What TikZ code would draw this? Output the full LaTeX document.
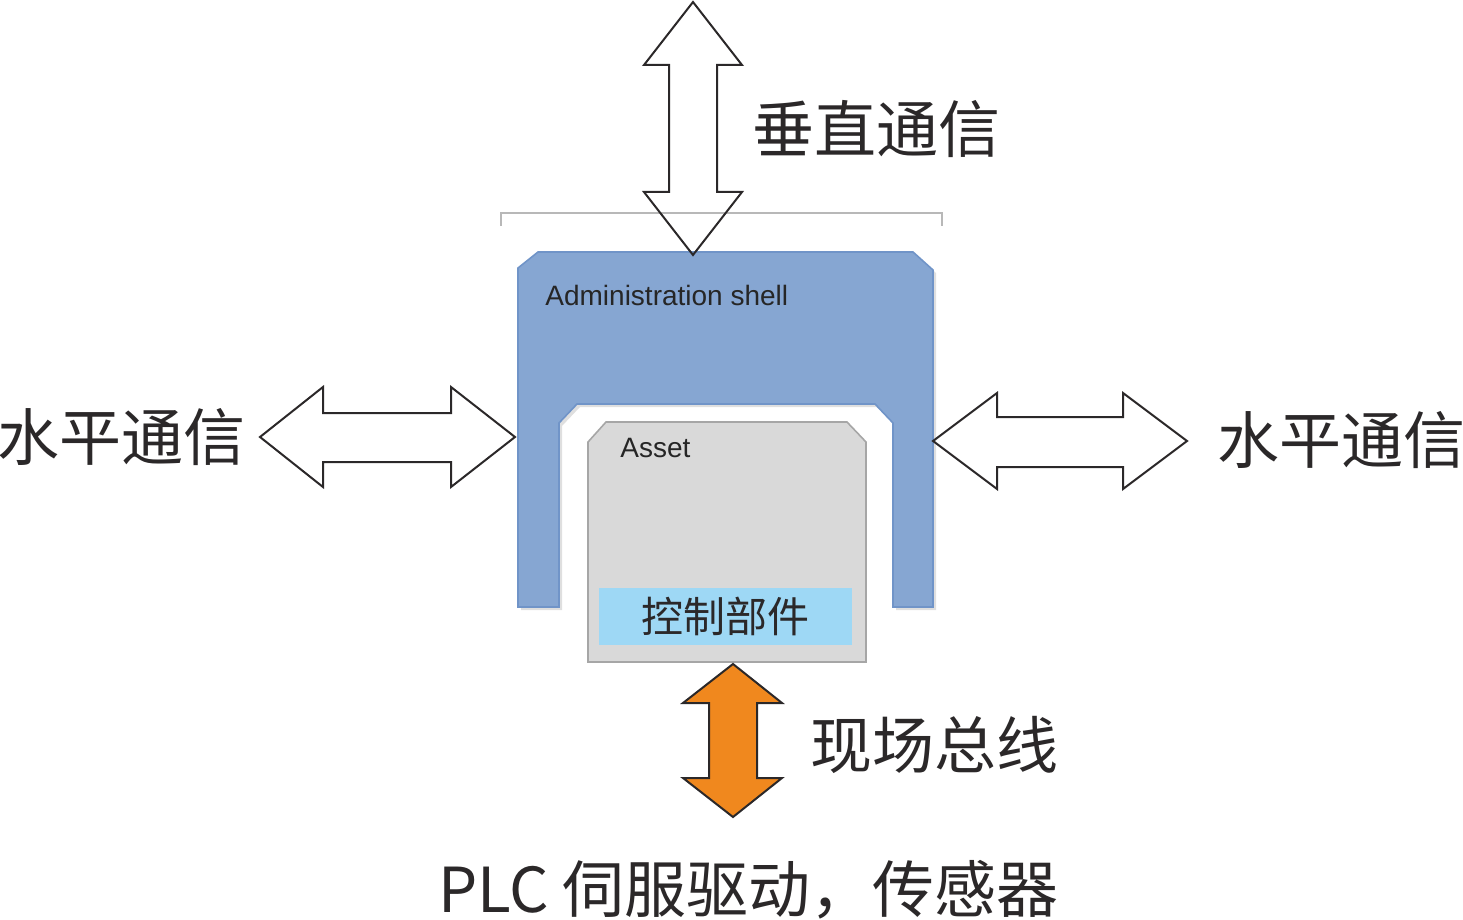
\documentclass[tikz,border=0pt]{standalone}
\usepackage{fontspec}
\setmainfont{Liberation Sans}
\newfontfamily\cjk{Noto Sans CJK SC}
\usetikzlibrary{shadows}

\definecolor{shellblue}{RGB}{134,166,210}
\definecolor{shellline}{RGB}{112,148,200}
\definecolor{assetgrey}{RGB}{217,217,217}
\definecolor{assetline}{RGB}{166,166,166}
\definecolor{ctrlblue}{RGB}{158,216,245}
\definecolor{busorange}{RGB}{240,136,30}
\definecolor{inkdark}{RGB}{43,40,41}

\begin{document}
\begin{tikzpicture}[x=0.5pt, y=-0.5pt, cjklabel/.style={font=\cjk\fontsize{31}{31}\selectfont, text=inkdark, inner sep=0pt}, boxlabel/.style={font=\fontsize{14}{14}\selectfont, text=black!85, inner sep=0pt, anchor=west}, blockarrow/.style={draw=inkdark, line width=1pt, line join=miter}]

		\useasboundingbox (0,0) rectangle (1463,920);

		% bracket over the shell
		\draw[assetline!80, line width=1pt] (501,226) -- (501,213) -- (942,213) -- (942,226);

		% administration shell
		\filldraw[fill=shellblue, draw=shellline, line width=0.8pt, drop shadow={shadow xshift=1.5pt, shadow yshift=-1.5pt, opacity=0.25}] (518,268) -- (538,252) -- (913,252) -- (933,270) -- (933,607) -- (893,607) -- (893,423) -- (875,404) -- (577,404) -- (559,423) -- (559,607) -- (518,607) -- cycle;
		\node[boxlabel] (shelltitle) at (545,295) {Administration shell};

		% asset
		\filldraw[fill=assetgrey, draw=assetline, line width=0.8pt] (588,442) -- (606,422) -- (847,422) -- (866,442) -- (866,662) -- (588,662) -- cycle;
		\node[boxlabel] (assettitle) at (620,448) {Asset};
		\node[fill=ctrlblue, minimum width=126.5pt, minimum height=28.5pt, inner sep=0pt, font=\cjk\fontsize{21}{21}\selectfont, text=inkdark] (ctrl) at (725.5,616.5) {控制部件};

		% block arrows
		\draw[blockarrow] (693,2) -- (742,65) -- (717,65) -- (717,192) -- (742,192) -- (693,255) -- (644,192) -- (669,192) -- (669,65) -- (644,65) -- cycle;
		\draw[blockarrow] (260,437) -- (323,387) -- (323,413) -- (451,413) -- (451,387) -- (515,437) -- (451,487) -- (451,462) -- (323,462) -- (323,487) -- cycle;
		\draw[blockarrow] (933,441) -- (997,393) -- (997,417) -- (1123,417) -- (1123,393) -- (1187,441) -- (1123,489) -- (1123,467) -- (997,467) -- (997,489) -- cycle;
		\draw[blockarrow, fill=busorange] (733,664) -- (782,703) -- (757,703) -- (757,778) -- (782,778) -- (733,817) -- (683,778) -- (709,778) -- (709,703) -- (683,703) -- cycle;

		% labels
		\node[cjklabel] (vtext) at (876.5,129) {垂直通信};
		\node[cjklabel] (hleft) at (121.5,437) {水平通信};
		\node[cjklabel] (hright) at (1341.5,440) {水平通信};
		\node[cjklabel] (bustext) at (934.5,745) {现场总线};
		\node[cjklabel] (devtext) at (748.5,890) {PLC 伺服驱动，传感器};

	\end{tikzpicture}
\end{document}
